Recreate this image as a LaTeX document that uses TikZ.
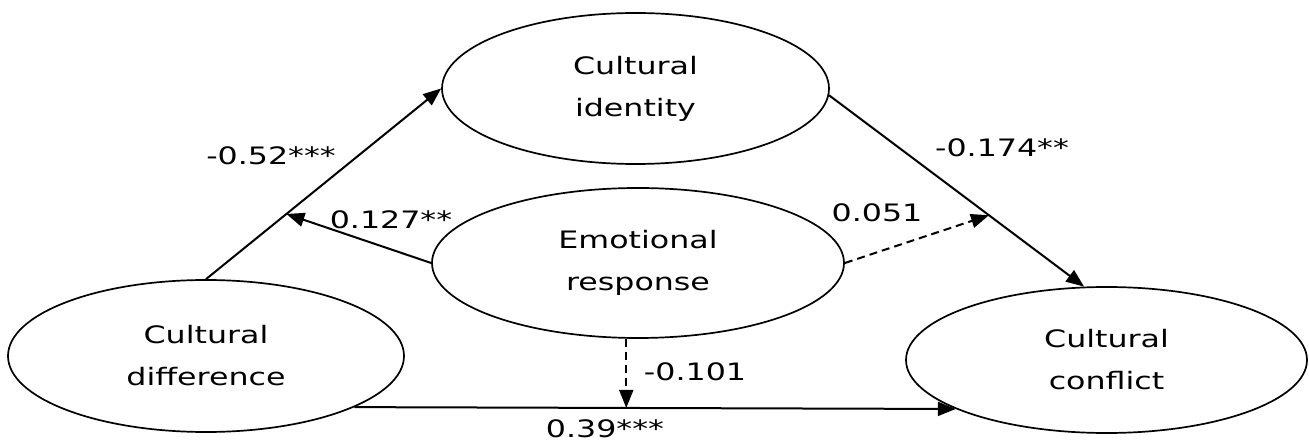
\documentclass[tikz,border=0pt]{standalone}
\usepackage{fontspec}
\newfontfamily\lab[FakeStretch=1.32]{DejaVu Sans}
\usetikzlibrary{shapes.geometric,arrows.meta,calc}
\begin{document}
\begin{tikzpicture}[x=1pt,y=-1pt,
 ell/.style={draw,ellipse,line width=1.7pt,inner sep=0pt,align=center,font=\lab\fontsize{24}{42}\selectfont},
 arr/.style={line width=2pt,-{Triangle[length=18pt,width=14pt]}},
 dsh/.style={arr,dash pattern=on 8pt off 5pt},
 lbl/.style={font=\lab\fontsize{24}{28}\selectfont,inner sep=0pt}]
\useasboundingbox (0,0) rectangle (1309,443);
\node[ell,minimum width=387pt,minimum height=151pt] (iden) at (635.5,88.5) {Cultural\\identity};
\node[ell,minimum width=412pt,minimum height=150pt] (emo) at (638,263) {Emotional\\response};
\node[ell,minimum width=396pt,minimum height=152pt] (diff) at (206,356) {Cultural\\difference};
\node[ell,minimum width=401pt,minimum height=146pt] (conf) at (1106.5,360) {Cultural\\conflict};
\coordinate (p1) at ($(diff.north)!0.342!(iden.west)$);
\coordinate (p2) at ($(iden.-2)!0.627!(conf.107)$);
\coordinate (p3) at ($(diff.-19.7)!0.452!(conf.198.3)$);
\draw[arr] (diff.north) -- (iden.west);
\draw[arr] (iden.-2) -- (conf.107);
\draw[arr] (diff.-19.7) -- (conf.198.3);
\draw[arr] (emo.west) -- (p1);
\draw[dsh] (emo.east) -- (p2);
\draw[dsh] (p3 |- emo.south) -- (p3);
\node[lbl] (l1) at (271,156) {-0.52***};
\node[lbl] (l2) at (391,220) {0.127**};
\node[lbl] (l3) at (1002,148) {-0.174**};
\node[lbl] (l4) at (877,213) {0.051};
\node[lbl] (l5) at (695,372) {-0.101};
\node[lbl] (l6) at (605,429) {0.39***};
\end{tikzpicture}
\end{document}
